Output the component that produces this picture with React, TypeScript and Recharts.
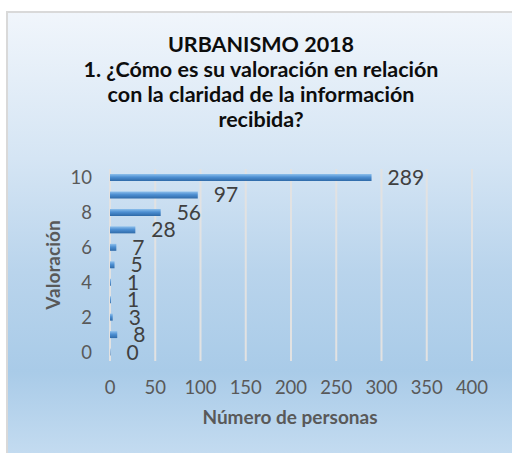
import React from 'react';
import { BarChart, Bar, XAxis, YAxis, CartesianGrid, LabelList } from 'recharts';

const ratings = [10, 9, 8, 7, 6, 5, 4, 3, 2, 1, 0];
const people = [289, 97, 56, 28, 7, 5, 1, 1, 3, 8, 0];
const xTicks = [0, 50, 100, 150, 200, 250, 300, 350, 400];
const titleLines = ['URBANISMO 2018', '1. ¿Cómo es su valoración en relación', 'con la claridad de la información', 'recibida?'];

const data = ratings.map((r, i) => ({ rating: String(r), count: people[i] }));

const FONT = 'Lato, "Open Sans", sans-serif';

export default function App() {
  return (
    <div
      style={{
        position: 'fixed',
        left: 0,
        top: 0,
        width: 512,
        height: 453,
        overflow: 'hidden',
        fontFamily: FONT,
        background: 'linear-gradient(to bottom, #f3f7fc 0%, #d5e5f4 35%, #b9d4ec 60%, #a9cbe8 82%, #c3dbf0 100%)',
      }}
    >
      <style>{'html,body{margin:0;padding:0;overflow:hidden;}'}</style>
      <div style={{ position: 'absolute', left: 0, top: 0, width: 512, height: 11, background: '#ffffff' }} />
      <div style={{ position: 'absolute', left: 0, top: 0, width: 6, height: 453, background: '#ffffff' }} />
      <div style={{ position: 'absolute', left: 6, top: 11, width: 506, height: 2, background: '#d9d9d9' }} />
      <div style={{ position: 'absolute', left: 6, top: 11, width: 2, height: 442, background: '#d9d9d9' }} />
      <div style={{ position: 'absolute', left: 0, top: 0 }}>
        <BarChart
          width={512}
          height={453}
          data={data}
          layout="vertical"
          margin={{ top: 169, right: 40, bottom: 32, left: 0 }}
          barCategoryGap={0}
        >
          <defs>
            <linearGradient id="barGrad" x1="0" y1="0" x2="0" y2="1">
              <stop offset="0%" stopColor="#8ec0ec" />
              <stop offset="45%" stopColor="#4d8fd2" />
              <stop offset="100%" stopColor="#2f6aa8" />
            </linearGradient>
          </defs>
          <CartesianGrid horizontal={false} stroke="#e2e2e2" strokeWidth={2} />
          <XAxis
            type="number"
            domain={[0, 400]}
            ticks={xTicks}
            interval={0}
            axisLine={false}
            tickLine={false}
            tickSize={0}
            tickMargin={20}
            height={60}
            tick={{ fill: '#595959', fontSize: 18.5, fontFamily: FONT }}
          />
          <YAxis
            type="category"
            dataKey="rating"
            width={110}
            interval={0}
            axisLine={false}
            tickLine={false}
            tickSize={0}
            tickMargin={18}
            tickFormatter={(v: string) => (Number(v) % 2 === 0 ? v : '')}
            tick={{ fill: '#595959', fontSize: 18.5, fontFamily: FONT }}
          />
          <Bar dataKey="count" fill="url(#barGrad)" barSize={7} minPointSize={0.5} isAnimationActive={false}>
            <LabelList dataKey="count" position="right" offset={16} fill="#404040" fontSize={21} fontFamily={FONT} />
          </Bar>
        </BarChart>
      </div>
      <div
        style={{
          position: 'absolute',
          left: 31,
          top: 32,
          width: 460,
          textAlign: 'center',
          fontWeight: 700,
          fontSize: 21.5,
          lineHeight: '25px',
          color: '#0d0d0d',
        }}
      >
        {titleLines.map((l) => (
          <div key={l}>{l}</div>
        ))}
      </div>
      <div
        style={{
          position: 'absolute',
          left: 160,
          top: 405,
          width: 260,
          textAlign: 'center',
          fontWeight: 700,
          fontSize: 19,
          lineHeight: '24px',
          color: '#595959',
        }}
      >
        Número de personas
      </div>
      <div
        style={{
          position: 'absolute',
          left: 41,
          top: 195,
          width: 24,
          height: 140,
          display: 'flex',
          alignItems: 'center',
          justifyContent: 'center',
        }}
      >
        <div
          style={{
            transform: 'rotate(-90deg)',
            whiteSpace: 'nowrap',
            fontWeight: 700,
            fontSize: 19,
            lineHeight: '24px',
            color: '#595959',
          }}
        >
          Valoración
        </div>
      </div>
    </div>
  );
}
